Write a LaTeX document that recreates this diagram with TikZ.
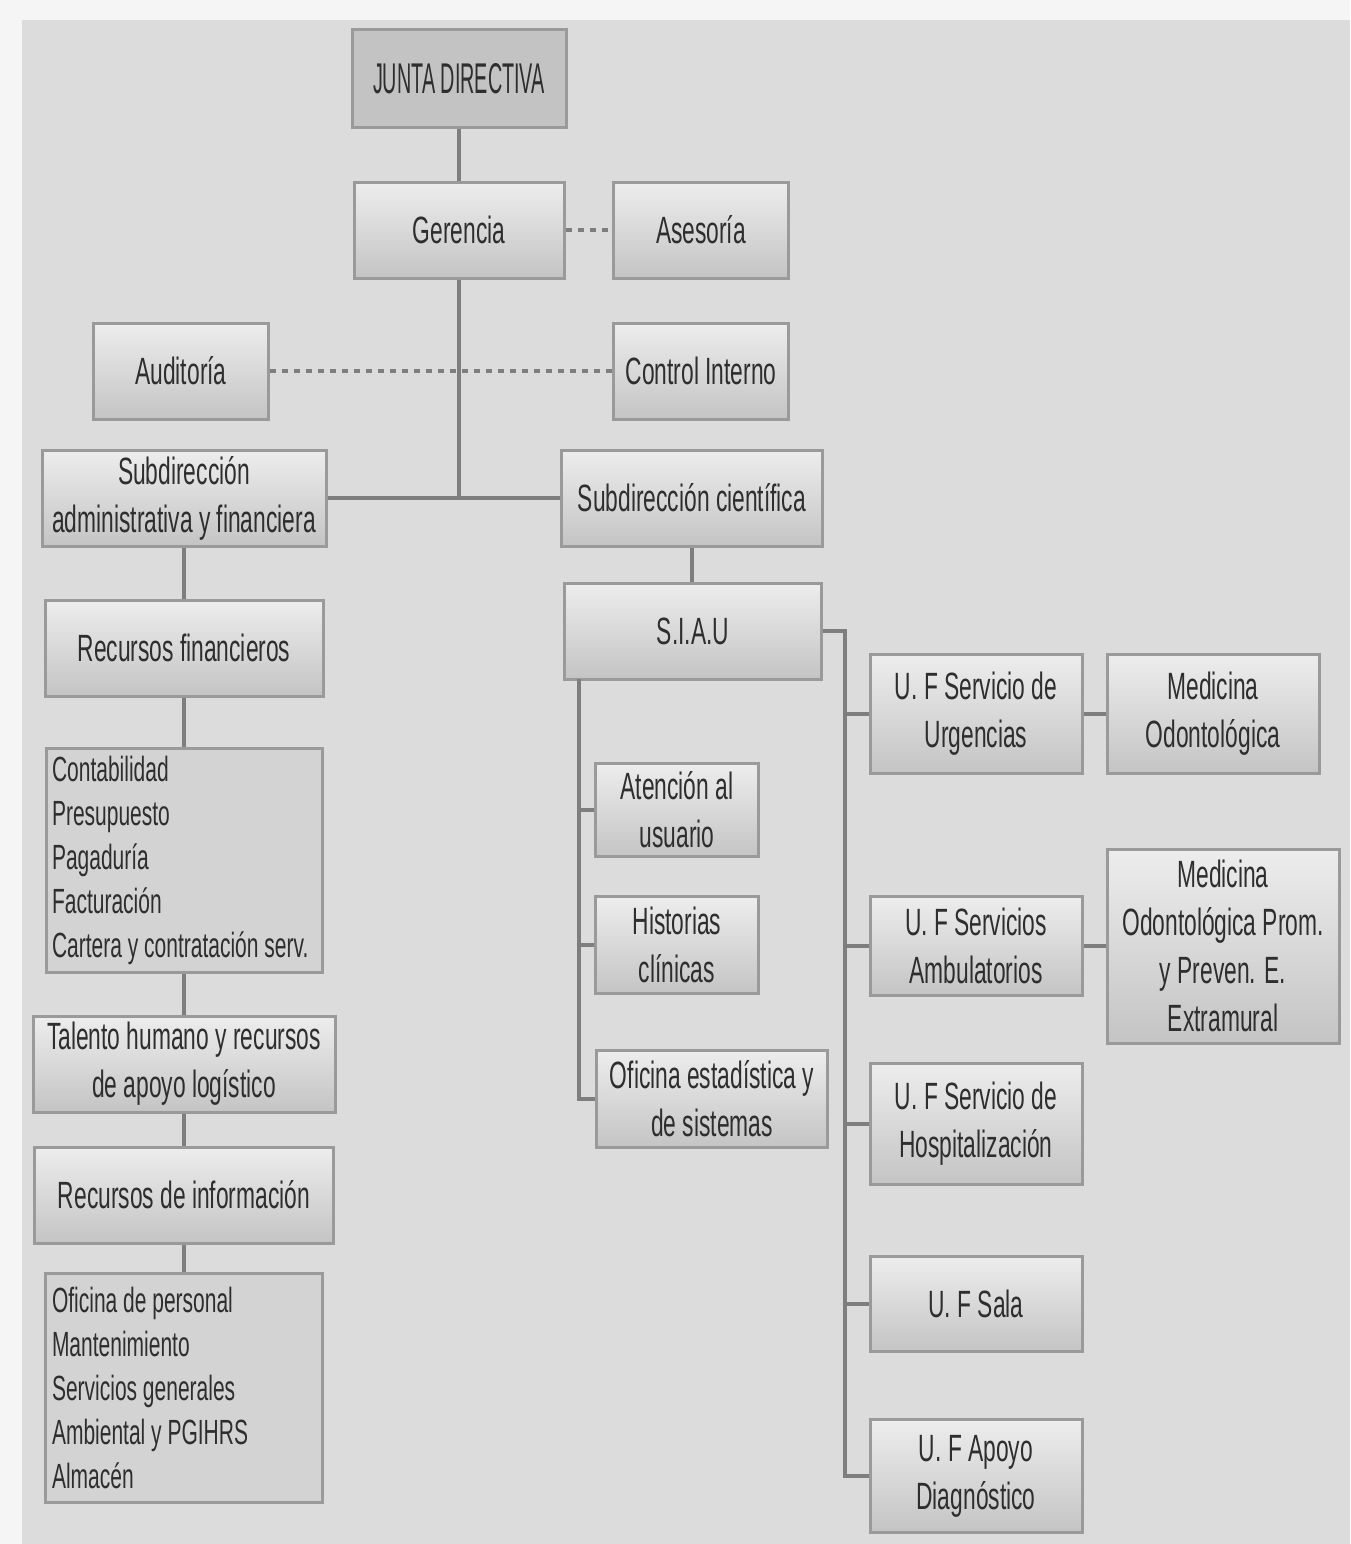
\documentclass[tikz,border=0pt]{standalone}
\usepackage{fontspec}
\setmainfont{Liberation Sans}[FakeStretch=0.6]
\newfontfamily\tightfont{Liberation Sans}[FakeStretch=0.46]

\definecolor{pagewhite}{HTML}{F5F5F5}
\definecolor{bggray}{HTML}{DCDCDC}
\definecolor{boxline}{HTML}{9A9A9A}
\definecolor{boxtop}{HTML}{EDEDED}
\definecolor{boxbot}{HTML}{C4C4C4}
\definecolor{headfill}{HTML}{C3C3C3}
\definecolor{listfill}{HTML}{D3D3D3}
\definecolor{linkgray}{HTML}{7E7E7E}
\definecolor{ink}{HTML}{2E2E2E}

\tikzset{
  boxbase/.style={draw=boxline, line width=3pt, text=ink, align=center,
    inner sep=3pt, font=\fontsize{38}{48}\selectfont},
  orgbox/.style={boxbase, shading=axis, top color=boxtop, bottom color=boxbot},
  headbox/.style={boxbase, fill=headfill,
    font=\tightfont\fontsize{43}{48}\selectfont},
  listbox/.style={boxbase, fill=listfill, align=flush left,
    inner xsep=5pt, font=\fontsize{35}{44}\selectfont},
  link/.style={draw=linkgray, line width=3.5pt},
  dotlink/.style={link, dash pattern=on 6pt off 6pt},
}

% \orgbox[style]{name}{centre x}{centre y}{width}{height}{text}
\newcommand\orgbox[7][orgbox]{%
  \node[#1, minimum width=#5, minimum height=#6] (#2) at (#3,-#4) {#7};}

\begin{document}
\begin{tikzpicture}[x=1pt, y=1pt]
\useasboundingbox (0,0) rectangle (1350,-1544);
\fill[pagewhite] (0,0) rectangle (1350,-1544);
\fill[bggray] (22,-20) rectangle (1350,-1544);

% top of the hierarchy
\orgbox[headbox]{junta}{459}{79}{214}{98}{JUNTA DIRECTIVA}
\orgbox{ger}{459}{230}{210}{96}{Gerencia}
\orgbox{ases}{701}{230}{175}{96}{Asesoría}
\orgbox{audit}{181}{371}{175}{96}{Auditoría}
\orgbox{control}{701}{371}{175}{96}{Control Interno}

% administrative branch
\orgbox{subadm}{184}{498}{284}{96}{Subdirección\\administrativa y financiera}
\orgbox{recfin}{184}{648}{278}{96}{Recursos financieros}
\orgbox[listbox, text width=264pt]{contab}{184}{860}{276}{224}{Contabilidad\\Presupuesto\\Pagaduría\\Facturación\\Cartera y contratación serv.}
\orgbox{talento}{184}{1064}{302}{96}{Talento humano y recursos\\de apoyo logístico}
\orgbox{recinfo}{184}{1195}{299}{96}{Recursos de información}
\orgbox[listbox, text width=264pt]{personal}{184}{1388}{277}{229}{Oficina de personal\\Mantenimiento\\Servicios generales\\Ambiental y PGIHRS\\Almacén}

% scientific branch
\orgbox{subcie}{692}{498}{261}{96}{Subdirección científica}
\orgbox{siau}{693}{631}{257}{96}{S.I.A.U}
\orgbox{aten}{677}{810}{163}{93}{Atención al\\usuario}
\orgbox{hist}{677}{945}{163}{97}{Historias\\clínicas}
\orgbox{ofic}{712}{1099}{231}{97}{Oficina estadística y\\de sistemas}

% functional units
\orgbox{urg}{976}{714}{212}{119}{U. F Servicio de\\Urgencias}
\orgbox{medodo}{1213}{714}{212}{119}{Medicina\\Odontológica}
\orgbox{amb}{976}{946}{212}{99}{U. F Servicios\\Ambulatorios}
\orgbox{medprom}{1223}{946}{232}{194}{Medicina\\Odontológica Prom.\\y Preven. E.\\Extramural}
\orgbox{hosp}{976}{1124}{212}{121}{U. F Servicio de\\Hospitalización}
\orgbox{sala}{976}{1304}{212}{95}{U. F Sala}
\orgbox{apoyo}{976}{1476}{212}{113}{U. F Apoyo\\Diagnóstico}

% connectors
\draw[link] (junta.south) -- (ger.north);
\draw[link] (ger.south) -- (ger.south |- subadm.east);
\draw[link] (subadm.east) -- (subcie.west);
\draw[dotlink] (ger.east) -- (ases.west);
\draw[dotlink] (audit.east) -- (control.west);

\draw[link] (subadm.south) -- (recfin.north);
\draw[link] (recfin.south) -- (contab.north);
\draw[link] (contab.south) -- (talento.north);
\draw[link] (talento.south) -- (recinfo.north);
\draw[link] (recinfo.south) -- (personal.north);

\draw[link] (subcie.south) -- (subcie.south |- siau.north);

\coordinate (siauleft) at (579,-679);
\draw[link] (siauleft) |- (ofic.west);
\draw[link] (siauleft |- aten.west) -- (aten.west);
\draw[link] (siauleft |- hist.west) -- (hist.west);

\coordinate (siauright) at (845,-631);
\draw[link] (siau.east) -- (siauright) |- (apoyo.west);
\draw[link] (siauright |- urg.west) -- (urg.west);
\draw[link] (siauright |- amb.west) -- (amb.west);
\draw[link] (siauright |- hosp.west) -- (hosp.west);
\draw[link] (siauright |- sala.west) -- (sala.west);

\draw[link] (urg.east) -- (medodo.west);
\draw[link] (amb.east) -- (medprom.west);
\end{tikzpicture}
\end{document}
